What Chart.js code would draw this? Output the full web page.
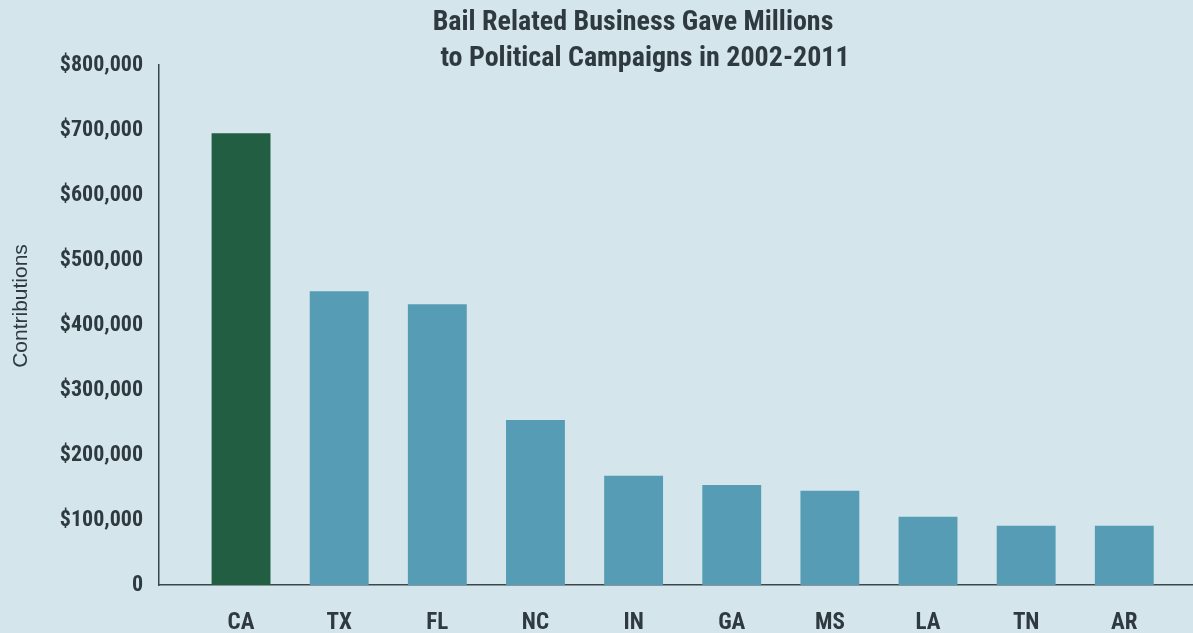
<!DOCTYPE html>
<html>
<head>
<meta charset="utf-8">
<script src="https://cdn.jsdelivr.net/npm/chart.js@4/dist/chart.umd.min.js"></script>
<style>
  html, body { margin: 0; padding: 0; background: #d4e6ec; overflow: hidden; }
  #wrap { width: 1193px; height: 633px; position: relative; }
</style>
</head>
<body>
<div id="wrap"><canvas id="c" width="1193" height="633"></canvas></div>
<script>
const categories = ["CA", "TX", "FL", "NC", "IN", "GA", "MS", "LA", "TN", "AR"];
const contributions = [695000, 452000, 432000, 254000, 168000, 154000, 145000, 105000, 91000, 91000];
const barColors = ["#225e42", "#579cb5", "#579cb5", "#579cb5", "#579cb5", "#579cb5", "#579cb5", "#579cb5", "#579cb5", "#579cb5"];
const titleLines = ["Bail Related Business Gave Millions", "to Political Campaigns in 2002-2011"];
const yAxisTitle = "Contributions";

const FONT = "'Liberation Sans Narrow', 'Roboto Condensed', 'Liberation Sans', sans-serif";
const TEXT = "#2e3a40";

const titlePlugin = {
  id: 'customTitle',
  afterDraw(chart) {
    const ctx = chart.ctx;
    ctx.save();
    ctx.fillStyle = TEXT;
    ctx.font = "bold 28px " + FONT;
    ctx.textAlign = "center";
    ctx.textBaseline = "middle";
    ctx.fillText(titleLines[0], 633, 23);
    ctx.fillText(titleLines[1], 645, 59);
    ctx.translate(21, 306);
    ctx.rotate(-Math.PI / 2);
    ctx.font = "normal 21px 'Liberation Sans', Arial, sans-serif";
    ctx.fillText(yAxisTitle, 0, 0);
    ctx.restore();
  }
};

new Chart(document.getElementById('c'), {
  type: 'bar',
  data: {
    datasets: [{
      data: contributions.map((v, i) => ({ x: i, y: v })),
      backgroundColor: barColors,
      borderWidth: 0,
      barPercentage: 0.6,
      categoryPercentage: 1.0
    }]
  },
  options: {
    responsive: false,
    animation: false,
    layout: { padding: { top: 65, right: 0, left: 0, bottom: 0 } },
    plugins: { legend: { display: false }, tooltip: { enabled: false }, title: { display: false } },
    scales: {
      x: {
        type: 'linear',
        offset: false,
        min: -0.836,
        max: 9.70,
        grid: { display: false, drawTicks: false, offset: false },
        border: { display: true, color: '#3a474d', width: 1.5 },
        afterBuildTicks: s => { s.ticks = categories.map((_, i) => ({ value: i })); },
        afterFit: s => { s.height = 48; },
        ticks: {
          autoSkip: false,
          maxRotation: 0,
          padding: 24,
          color: TEXT,
          font: { family: FONT, size: 23, weight: 'bold' },
          callback: v => categories[v]
        }
      },
      y: {
        min: 0,
        max: 800000,
        grid: { display: false, drawTicks: false },
        border: { display: true, color: '#3a474d', width: 1.5 },
        afterFit: s => { s.width = 159; },
        ticks: {
          stepSize: 100000,
          padding: 16,
          color: TEXT,
          font: { family: FONT, size: 22, weight: 'bold' },
          callback: v => v === 0 ? '0' : '$' + v.toLocaleString('en-US')
        }
      }
    }
  },
  plugins: [titlePlugin]
});
</script>
</body>
</html>
